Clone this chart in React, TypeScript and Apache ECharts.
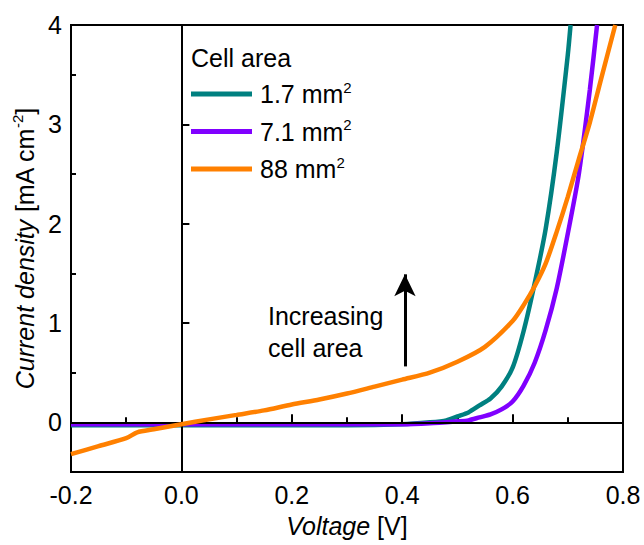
import React, { useEffect, useRef } from "react";
import * as echarts from "echarts";

const FONT = "'Liberation Sans', Arial, Helvetica, sans-serif";

// Data
const seriesNames = ["1.7 mm", "7.1 mm", "88 mm"];
const seriesColors = ["#008080", "#8000ff", "#ff8000"];

const tealV = [-0.2, -0.1, 0, 0.1, 0.2, 0.3, 0.4, 0.45, 0.48, 0.5, 0.52, 0.54, 0.56, 0.58, 0.6, 0.62, 0.64, 0.66, 0.68, 0.7, 0.705];
const tealJ = [-0.03, -0.03, -0.03, -0.03, -0.03, -0.03, -0.02, 0.0, 0.02, 0.06, 0.1, 0.17, 0.24, 0.36, 0.55, 0.92, 1.4, 1.95, 2.72, 3.7, 4.0];

const purpleV = [-0.2, -0.1, 0, 0.1, 0.2, 0.3, 0.4, 0.45, 0.5, 0.52, 0.54, 0.56, 0.58, 0.6, 0.62, 0.64, 0.66, 0.68, 0.7, 0.72, 0.74, 0.753];
const purpleJ = [-0.02, -0.02, -0.02, -0.02, -0.02, -0.02, -0.02, -0.01, 0.01, 0.02, 0.05, 0.08, 0.13, 0.21, 0.37, 0.6, 0.93, 1.35, 1.9, 2.5, 3.35, 4.0];

const orangeV = [-0.2, -0.15, -0.1, -0.08, -0.05, 0, 0.05, 0.1, 0.15, 0.2, 0.25, 0.3, 0.35, 0.4, 0.45, 0.5, 0.55, 0.6, 0.62, 0.64, 0.66, 0.68, 0.7, 0.72, 0.74, 0.76, 0.786];
const orangeJ = [-0.32, -0.24, -0.16, -0.1, -0.07, -0.02, 0.03, 0.075, 0.12, 0.18, 0.23, 0.29, 0.36, 0.43, 0.5, 0.61, 0.76, 1.02, 1.18, 1.37, 1.6, 1.92, 2.27, 2.65, 3.02, 3.45, 4.0];

const yMajorTicks = [0, 1, 2, 3, 4];
const yMinorTicks = [0.5, 1.5, 2.5, 3.5];

// Arrow annotation (data coordinates)
const arrowX = 0.405;
const arrowFrom = 0.563;
const arrowTo = 1.49;

const zip = (v: number[], j: number[]) => v.map((x, i) => [x, j[i]]);
const allData = [zip(tealV, tealJ), zip(purpleV, purpleJ), zip(orangeV, orangeJ)];

const legendTops = [79, 116.5, 154];

function buildOption() {
  const axisText = { color: "#000", fontFamily: FONT, fontSize: 25 };
  return {
    animation: false,
    grid: {
      left: 71,
      right: 21,
      top: 25,
      bottom: 73,
      outerBoundsMode: "none",
      containLabel: false,
      show: true,
      borderColor: "#000",
      borderWidth: 2,
      backgroundColor: "transparent",
    },
    xAxis: {
      type: "value",
      min: -0.2,
      max: 0.8,
      interval: 0.2,
      name: "{i|Voltage} {n|[V]}",
      nameLocation: "middle",
      nameGap: 41,
      nameTextStyle: {
        color: "#000",
        fontFamily: FONT,
        fontSize: 25,
        rich: {
          i: { fontStyle: "italic", fontSize: 25, fontFamily: FONT, color: "#000" },
          n: { fontSize: 25, fontFamily: FONT, color: "#000" },
        },
      },
      axisLine: { show: true, lineStyle: { color: "#000", width: 2 } },
      axisTick: { show: true, inside: true, length: 8, lineStyle: { color: "#000", width: 2 } },
      minorTick: { show: true, splitNumber: 2, length: 5, lineStyle: { color: "#000", width: 2 } },
      axisLabel: { ...axisText, margin: 10, formatter: (v: number) => v.toFixed(1) },
      splitLine: { show: false },
    },
    yAxis: [
      {
        type: "value",
        min: -0.5,
        max: 4,
        name: "{i|Current density} {n|[mA cm}{s|-2}{n|]}",
        nameLocation: "middle",
        nameGap: 32,
        nameTextStyle: {
          color: "#000",
          fontFamily: FONT,
          fontSize: 25,
          rich: {
            i: { fontStyle: "italic", fontSize: 25, fontFamily: FONT, color: "#000" },
            n: { fontSize: 25, fontFamily: FONT, color: "#000" },
            s: { fontSize: 15, fontFamily: FONT, color: "#000", padding: [0, 0, 14, 0] },
          },
        },
        axisLine: { show: true, lineStyle: { color: "#000", width: 2 } },
        axisTick: { show: true, inside: true, length: 8, customValues: yMajorTicks, lineStyle: { color: "#000", width: 2 } },
        axisLabel: { ...axisText, margin: 9, customValues: yMajorTicks },
        splitLine: { show: false },
      },
      {
        type: "value",
        min: -0.5,
        max: 4,
        position: "left",
        axisLine: { show: false },
        axisTick: { show: true, inside: true, length: 5, customValues: yMinorTicks, lineStyle: { color: "#000", width: 2 } },
        axisLabel: { show: false },
        splitLine: { show: false },
      },
    ],
    legend: seriesNames.map((name, i) => ({
      data: [name],
      left: 191,
      top: legendTops[i],
      orient: "vertical",
      padding: 0,
      itemWidth: 61,
      itemHeight: 5,
      icon: "rect",
      selectedMode: false,
      formatter: (n: string) => `{n|${n}}{s|2}`,
      textStyle: {
        color: "#000",
        fontFamily: FONT,
        fontSize: 25,
        lineHeight: 30,
        padding: [0, 0, 0, 3],
        rich: {
          n: { fontSize: 25, lineHeight: 30, fontFamily: FONT, color: "#000" },
          s: { fontSize: 15, lineHeight: 30, fontFamily: FONT, color: "#000", padding: [0, 0, 14, 0] },
        },
      },
    })),
    graphic: [
      {
        type: "text",
        x: 191,
        y: 58,
        style: { text: "Cell area", fontSize: 25, fontFamily: FONT, fill: "#000", verticalAlign: "middle" },
      },
      {
        type: "text",
        x: 268,
        y: 300,
        style: {
          text: "Increasing\ncell area",
          fontSize: 25,
          lineHeight: 32,
          fontFamily: FONT,
          fill: "#000",
          verticalAlign: "top",
        },
      },
    ],
    series: [
      {
        type: "line",
        name: "__ref",
        data: [[0, 0]],
        showSymbol: false,
        lineStyle: { width: 0 },
        z: 1,
        silent: true,
        markLine: {
          silent: true,
          symbol: "none",
          label: { show: false },
          lineStyle: { color: "#000", width: 2, type: "solid" },
          data: [
            { xAxis: 0 },
            { yAxis: 0 },
            [
              { coord: [arrowX, arrowFrom], symbol: "none" },
              { coord: [arrowX, arrowTo], symbol: "arrow", symbolSize: [16, 22], lineStyle: { width: 3 } },
            ],
          ],
        },
      },
      ...seriesNames.map((name, i) => ({
        type: "line",
        name,
        data: allData[i],
        showSymbol: false,
        smooth: 0.25,
        z: 3 + i,
        color: seriesColors[i],
        lineStyle: { color: seriesColors[i], width: 4.5 },
      })),
    ],
  };
}

export default function App() {
  const ref = useRef<HTMLDivElement>(null);
  useEffect(() => {
    const chart = echarts.init(ref.current!, null, { renderer: "svg" });
    chart.setOption(buildOption() as any);
    return () => chart.dispose();
  }, []);
  return (
    <div
      ref={ref}
      style={{ position: "fixed", left: 0, top: 0, width: 644, height: 545, background: "#fff" }}
    />
  );
}
